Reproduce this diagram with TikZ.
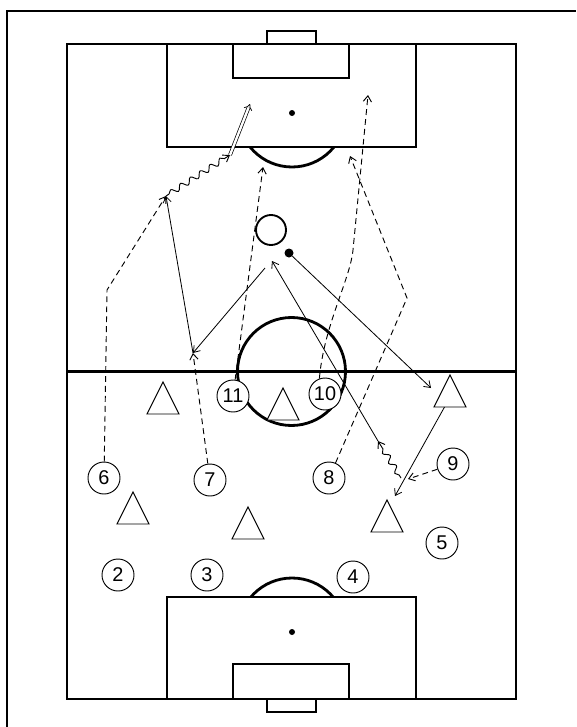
\documentclass[tikz,border=0pt]{standalone}
\usepackage{fontspec}
\setmainfont{Liberation Sans}
\usetikzlibrary{shapes.geometric, arrows.meta, decorations.pathmorphing}

\begin{document}
\begin{tikzpicture}[
  x=0.03cm, y=-0.03cm,
  campo/.style={draw=black, line width=2.4pt},
  giocatore/.style={circle, draw=black, fill=white, line width=0.8pt, minimum size=0.96cm,
                    inner sep=0pt, font=\fontsize{17}{17}\selectfont},
  avversario/.style={isosceles triangle, isosceles triangle stretches, shape border rotate=90,
                     draw=black, fill=white, line width=0.8pt, minimum width=0.96cm,
                     minimum height=0.96cm, inner sep=0pt, outer sep=0pt, anchor=apex},
  punta/.style={-{Straight Barb[length=5pt,width=7pt]}},
  passaggio/.style={draw=black, line width=0.7pt, punta},
  corsa/.style={draw=black, line width=0.8pt, dash pattern=on 5pt off 3.5pt, punta},
  conduzione/.style={draw=black, line width=0.8pt, punta, decorate,
                     decoration={snake, amplitude=2.4pt, segment length=10pt, pre length=3pt, post length=5pt}},
  tiro/.style={draw=black, double, double distance=2pt, line width=0.6pt, -{Implies}}
]
\useasboundingbox (0,0) rectangle (576,727);

% cornice
\draw[line width=1.3pt] (7,727) -- (7,11) -- (576,11);

% campo
\draw[campo] (67,44) rectangle (516,699);
\draw[campo] (67,371.5) -- (516,371.5);
\draw[campo] (291.5,371.5) circle (54);
\draw[campo] (167,44) rectangle (416,147);
\draw[campo] (233,44) rectangle (349,78);
\draw[campo] (267,31) rectangle (316,44);
\draw[campo] (167,597) rectangle (416,699);
\draw[campo] (233,664) rectangle (349,699);
\draw[campo] (267,699) rectangle (316,712);
\fill (292,113) circle (3);
\fill (292,632) circle (3);
\begin{scope}
  \clip (67,147) rectangle (516,371);
  \draw[campo] (292,113) circle (54);
\end{scope}
\begin{scope}
  \clip (67,372) rectangle (516,597);
  \draw[campo] (292,632) circle (54);
\end{scope}

% giocatori
\node[giocatore] (g2)  at (118,575) {2};
\node[giocatore] (g3)  at (207,575) {3};
\node[giocatore] (g4)  at (353,577) {4};
\node[giocatore] (g5)  at (442,543) {5};
\node[giocatore] (g6)  at (104,478) {6};
\node[giocatore] (g7)  at (210,480) {7};
\node[giocatore] (g8)  at (329,478) {8};
\node[giocatore] (g9)  at (453,464) {9};
\node[giocatore] (g10) at (325,394) {10};
\node[giocatore] (g11) at (233,396) {11};

% avversari
\node[avversario] (a1) at (163,382) {};
\node[avversario] (a2) at (283,388) {};
\node[avversario] (a3) at (450,375) {};
\node[avversario] (a4) at (133,492) {};
\node[avversario] (a5) at (248,507) {};
\node[avversario] (a6) at (387,500) {};

% sagoma e palla
\node[circle, draw=black, line width=1.6pt, minimum size=0.9cm, inner sep=0pt] (sagoma) at (271,230) {};
\node[circle, fill=black, minimum size=0.27cm, inner sep=0pt] (palla) at (289,253) {};

% punti d'arrivo
\coordinate (c6) at (166,196);
\coordinate (s1) at (230,155);
\coordinate (porta) at (250,104);
\coordinate (c7) at (193,353);
\coordinate (c11) at (263,167);
\coordinate (c10) at (368,95);
\coordinate (k8) at (407,298);
\coordinate (c8) at (350,156);
\coordinate (r1) at (431,388);
\coordinate (r2) at (395,496);
\coordinate (r9) at (408,479);
\coordinate (d1) at (401,478);
\coordinate (d2) at (378,441);
\coordinate (r3) at (272,261);
\coordinate (r4) at (265,268);

% corse senza palla
\draw[corsa] (g6) -- (107,290) -- (c6);
\draw[corsa] (g7) -- (c7);
\draw[corsa] (g11) -- (c11);
\draw[corsa] (g10.110) .. controls (324,325) and (350,280) .. (353,250) -- (c10);
\draw[corsa] (g8) -- (k8) -- (c8);
\draw[corsa] (g9) -- (r9);

% passaggi
\draw[passaggio] (palla) -- (r1);
\draw[passaggio] (a3) -- (r2);
\draw[conduzione] (d1) -- (d2);
\draw[passaggio] (d2) -- (r3);
\draw[passaggio] (r4) -- (c7);
\draw[passaggio] (c7) -- (c6);

% conduzione e tiro
\draw[conduzione] (c6) -- (s1);
\draw[tiro] (s1) -- (porta);

\end{tikzpicture}
\end{document}
